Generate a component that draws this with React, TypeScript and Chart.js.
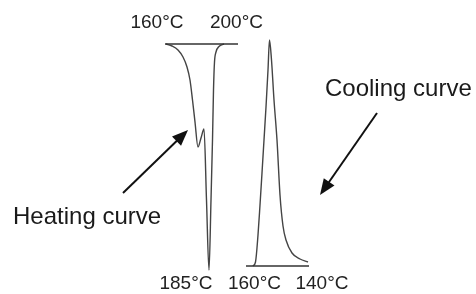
import React, { useEffect, useRef } from "react";
import { Chart, registerables } from "chart.js";

Chart.register(...registerables);

// Schematic DSC curves. x: arbitrary time units; y: heat flow units relative to each baseline.
const heatingX = [83, 86, 89, 91.5, 93.5, 95, 96.25, 97.5, 99, 100.5, 102, 103.25, 104.5, 105.5, 106.25, 106.75, 107.25, 108, 109.5, 112];
const heatingY = [0, -1, -3, -6.5, -11.5, -18, -28, -39, -51.5, -47, -42.5, -78, -113, -78, -48, -23, -9, -4, -1.25, 0];
const heatingBaseX = [82.5, 119];
const heatingBaseY = [0, 0];

const coolingX = [126.5, 127.75, 129, 130, 131, 132, 133, 134, 134.75, 135.75, 137, 138.5, 140, 141.5, 143, 146, 150, 154];
const coolingY = [0, 2, 15.5, 30.5, 46.5, 63, 79.5, 98, 113, 103, 83, 63, 35.5, 20, 13, 6.5, 3.5, 2];
const coolingBaseX = [123, 154.5];
const coolingBaseY = [0, 0];

// Temperature labels: text, x, y, axis
const tempLabels = ["160°C", "200°C", "185°C", "160°C", "140°C"];
const tempLabelX = [78.5, 118.25, 93, 127.25, 161];
const tempLabelY = [10.75, 10.75, -8.75, -8.75, -8.75];
const tempLabelAxis = ["yHeat", "yHeat", "yCool", "yCool", "yCool"];

// Curve labels (left-aligned)
const curveLabels = ["Heating curve", "Cooling curve"];
const curveLabelX = [6.5, 162.5];
const curveLabelY = [-86.5, 88.5];
const curveLabelAxis = ["yHeat", "yCool"];

// Arrows: tail -> tip
const arrowTailX = [61.5, 188.5];
const arrowTailY = [-74.5, 76.5];
const arrowTipX = [94, 160];
const arrowTipY = [-43, 35.5];
const arrowAxis = ["yHeat", "yCool"];

const pts = (xs: number[], ys: number[]) => xs.map((x, i) => ({ x, y: ys[i] }));

const annotationPlugin = {
  id: "annotations",
  afterDatasetsDraw(chart: any) {
    const { ctx, scales } = chart;
    const sx = scales.x;
    ctx.save();
    // arrows
    for (let i = 0; i < arrowTailX.length; i++) {
      const sy = scales[arrowAxis[i]];
      const x0 = sx.getPixelForValue(arrowTailX[i]);
      const y0 = sy.getPixelForValue(arrowTailY[i]);
      const x1 = sx.getPixelForValue(arrowTipX[i]);
      const y1 = sy.getPixelForValue(arrowTipY[i]);
      const ang = Math.atan2(y1 - y0, x1 - x0);
      const headLen = 16;
      const headHalf = 6.5;
      const bx = x1 - Math.cos(ang) * headLen;
      const by = y1 - Math.sin(ang) * headLen;
      ctx.strokeStyle = "#111";
      ctx.lineWidth = 2;
      ctx.beginPath();
      ctx.moveTo(x0, y0);
      ctx.lineTo(bx + Math.cos(ang) * 2, by + Math.sin(ang) * 2);
      ctx.stroke();
      ctx.fillStyle = "#111";
      ctx.beginPath();
      ctx.moveTo(x1, y1);
      ctx.lineTo(bx + Math.sin(ang) * headHalf, by - Math.cos(ang) * headHalf);
      ctx.lineTo(bx - Math.sin(ang) * headHalf, by + Math.cos(ang) * headHalf);
      ctx.closePath();
      ctx.fill();
    }
    // temperature labels
    ctx.fillStyle = "#222";
    ctx.font = '19px "Liberation Sans", Arial, sans-serif';
    ctx.textAlign = "center";
    ctx.textBaseline = "middle";
    for (let i = 0; i < tempLabels.length; i++) {
      const sy = scales[tempLabelAxis[i]];
      ctx.fillText(tempLabels[i], sx.getPixelForValue(tempLabelX[i]), sy.getPixelForValue(tempLabelY[i]));
    }
    // curve labels
    ctx.fillStyle = "#1a1a1a";
    ctx.font = '24px "Liberation Sans", Arial, sans-serif';
    ctx.textAlign = "left";
    for (let i = 0; i < curveLabels.length; i++) {
      const sy = scales[curveLabelAxis[i]];
      ctx.fillText(curveLabels[i], sx.getPixelForValue(curveLabelX[i]), sy.getPixelForValue(curveLabelY[i]));
    }
    ctx.restore();
  },
};

export default function App() {
  const canvasRef = useRef<HTMLCanvasElement | null>(null);

  useEffect(() => {
    if (!canvasRef.current) return;
    const curveStyle = {
      borderColor: "#444",
      borderWidth: 1.4,
      pointRadius: 0,
      fill: false,
      cubicInterpolationMode: "monotone" as const,
    };
    const baseStyle = {
      borderColor: "#333",
      borderWidth: 1.6,
      pointRadius: 0,
      fill: false,
      tension: 0,
    };
    const chart = new Chart(canvasRef.current, {
      type: "line",
      data: {
        datasets: [
          { label: "Heating baseline", data: pts(heatingBaseX, heatingBaseY), yAxisID: "yHeat", ...baseStyle },
          { label: "Heating curve", data: pts(heatingX, heatingY), yAxisID: "yHeat", ...curveStyle },
          { label: "Cooling baseline", data: pts(coolingBaseX, coolingBaseY), yAxisID: "yCool", ...baseStyle },
          { label: "Cooling curve", data: pts(coolingX, coolingY), yAxisID: "yCool", ...curveStyle },
        ],
      },
      options: {
        responsive: false,
        animation: false,
        layout: { padding: 0 },
        plugins: { legend: { display: false }, tooltip: { enabled: false } },
        scales: {
          x: { type: "linear", min: 0, max: 238, display: false },
          yHeat: { type: "linear", min: -125, max: 22, display: false },
          yCool: { type: "linear", min: -14, max: 133, display: false },
        },
      },
      plugins: [annotationPlugin],
    });
    return () => chart.destroy();
  }, []);

  return (
    <div style={{ position: "fixed", left: 0, top: 0, width: 476, height: 294, background: "#fff" }}>
      <canvas ref={canvasRef} width={476} height={294} style={{ display: "block" }} />
    </div>
  );
}
